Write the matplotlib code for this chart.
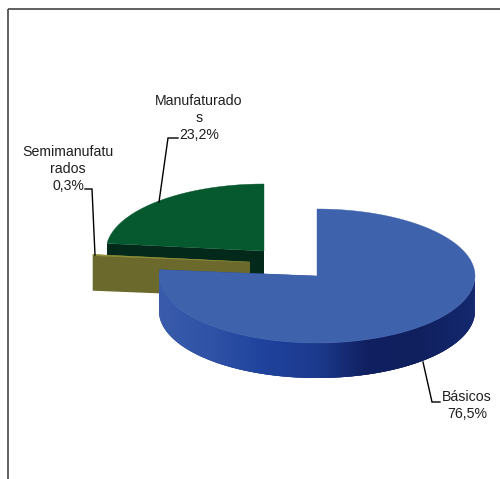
import numpy as np
import matplotlib
matplotlib.use("Agg")
import matplotlib.pyplot as plt
from matplotlib.colors import LinearSegmentedColormap

categories = ["Básicos", "Semimanufatu\nrados", "Manufaturado\ns"]
values = [76.5, 0.3, 23.2]
value_labels = ["76,5%", "0,3%", "23,2%"]

plt.rcParams['font.family'] = ['Liberation Sans', 'DejaVu Sans']
fig = plt.figure(figsize=(5.0, 4.79), dpi=100)
ax = fig.add_axes([0, 0, 1, 1])
ax.set_xlim(0, 500)
ax.set_ylim(479, 0)
ax.axis('off')

A, B, D = 158, 67, 35
centers = [(317, 276), (250, 262), (264, 251)]
top_cols = ['#3f62ad', '#8f8f38', '#06582f']
cut_cols = ['#0f2a78', '#6b6a2c', '#03291b']
side_cmaps = [
    LinearSegmentedColormap.from_list('b', ['#3a5bab', '#2f52a6', '#1f429c', '#1c3a8e', '#101f5f', '#10205f', '#14286e']),
    LinearSegmentedColormap.from_list('y', ['#6b6a2c', '#6b6a2c']),
    LinearSegmentedColormap.from_list('g', ['#03291b', '#03291b']),
]

def pt(c, deg):
    t = np.radians(deg)
    return c[0] + A * np.cos(t), c[1] - B * np.sin(t)

starts = 90 - np.cumsum([0] + values[:-1]) * 3.6
ends = starts - np.array(values) * 3.6

def draw_slice(i, z):
    c = centers[i]
    a0, a1 = starts[i], ends[i]
    # inner cut faces
    for ang in (a0, a1):
        x, y = pt(c, ang)
        ax.fill([c[0], x, x, c[0]], [c[1], y, y + D, c[1] + D],
                color=cut_cols[i], lw=0, zorder=z)
    # outer rim, only where it faces the viewer; strips overlap to hide seams
    angs = np.linspace(a0, a1, 400)
    for k in range(len(angs) - 3):
        p, q = angs[k], angs[k + 3]
        m = np.radians(angs[k])
        if np.sin(m) < 0 and np.sin(np.radians(q)) < 0:
            seg = np.linspace(p, q, 4)
            x, y = pt(c, seg)
            col = side_cmaps[i]((np.cos(m) + 1) / 2)
            ax.fill(np.r_[x, x[::-1]], np.r_[y, y[::-1] + D],
                    color=col, lw=0, zorder=z + 0.1)
    # top face
    xs, ys = pt(c, angs)
    ax.fill(np.r_[c[0], xs], np.r_[c[1], ys], color=top_cols[i], lw=0.3, zorder=z + 0.2)

draw_slice(2, 2)
draw_slice(1, 3)
draw_slice(0, 4)

txt = dict(ha='center', va='center', fontsize=10.2, color='#1f1f1f', linespacing=1.24, zorder=6)
ax.text(467, 405.5, categories[0] + "\n" + value_labels[0], **txt)
ax.text(68, 169, categories[1] + "\n" + value_labels[1], **txt)
ax.text(199, 118, categories[2] + "\n" + value_labels[2], **txt)

lk = dict(color='black', lw=1.0, zorder=7, solid_joinstyle='miter')
ax.plot([423, 432, 440], [362, 402, 402], **lk)
ax.plot([95, 92, 85], [255, 189, 189], **lk)
ax.plot([159, 168, 178], [202, 138, 138], **lk)

fr = dict(color='#444444', lw=1.2, zorder=8, solid_capstyle='butt')
ax.plot([8, 8], [9, 479], **fr)
ax.plot([8, 500], [9, 9], **fr)

fig.savefig('out.png', dpi=100)
